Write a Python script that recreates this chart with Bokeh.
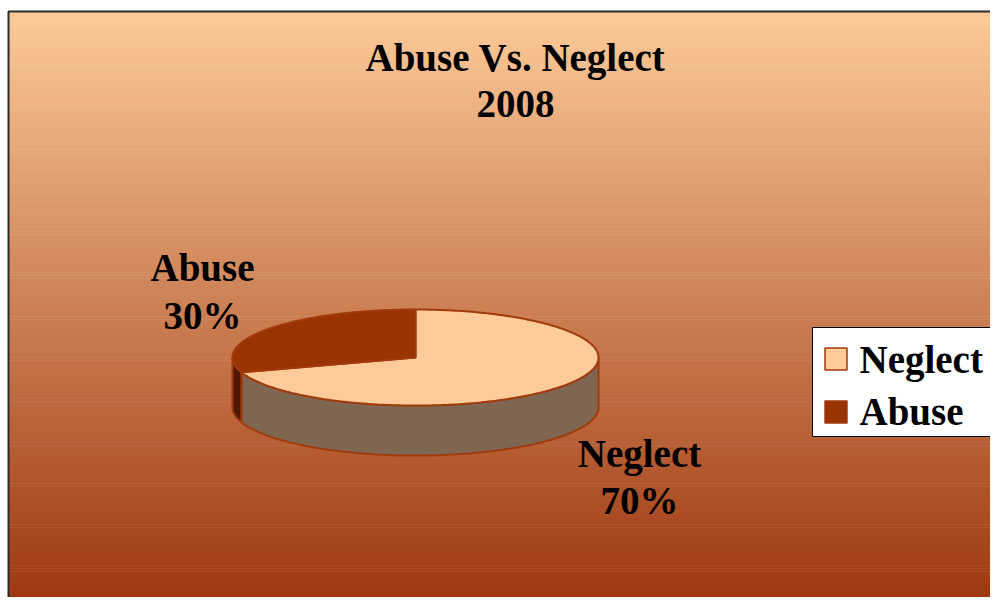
import numpy as np
from bokeh.plotting import figure
from bokeh.models import Range1d
from bokeh.core.properties import value
from bokeh.embed import file_html
from bokeh.resources import INLINE

# ---- data ----
categories = ["Neglect", "Abuse"]
shares = [70, 30]
top_colors = ["#FFCC99", "#993300"]
side_colors = ["#7F6650", "#4D1A00"]
title_lines = ["Abuse Vs. Neglect", "2008"]

W, H = 990, 597
DY = -13  # text baseline correction

p = figure(width=W, height=H, x_range=Range1d(0, W), y_range=Range1d(H, 0),
           output_backend="svg", toolbar_location=None,
           x_axis_type=None, y_axis_type=None, min_border=0)
p.grid.visible = False
p.outline_line_color = None
p.background_fill_color = "white"
p.border_fill_color = "white"

# ---- background gradient ----
left_x, top_y, bot_y = 8, 11, 613
n = 200
edges = np.linspace(top_y, H, n + 1)
mid = (edges[:-1] + edges[1:]) / 2
t = (mid - top_y) / (bot_y - top_y)
c0 = np.array([252, 202, 152])
c1 = np.array([155, 52, 14])
cols = ["#%02x%02x%02x" % tuple(int(round(v)) for v in (c0 + (c1 - c0) * tt)) for tt in t]
p.quad(left=left_x, right=W, top=edges[:-1], bottom=edges[1:] + 0.6, fill_color=cols, line_color=None)

# chart border (left & top visible)
p.quad(left=left_x, right=W + 50, top=top_y, bottom=H + 50, fill_color=None,
       line_color="#2b2b2b", line_width=2)

# ---- 3D pie ----
cx, cy, rx, ry, depth = 415.0, 357.0, 183.0, 48.0, 50.0
vals = np.array(shares, dtype=float)
fr = vals / vals.sum()
cum = np.concatenate([[0], np.cumsum(fr)])
start = np.pi / 2
outline = "#A13A0C"

# sides (front half only)
for i in range(len(vals)):
    a = start - cum[i + 1] * 2 * np.pi
    b = start - cum[i] * 2 * np.pi
    lo, hi = max(a, -np.pi), min(b, 0.0)
    if hi <= lo:
        continue
    th = np.linspace(lo, hi, 120)
    xs = cx + rx * np.cos(th)
    yt = cy - ry * np.sin(th)
    px = np.concatenate([xs, xs[::-1]])
    py = np.concatenate([yt, (yt + depth)[::-1]])
    p.patch(px, py, fill_color=side_colors[i], line_color=outline, line_width=2)

# top faces
for i in range(len(vals)):
    a = start - cum[i + 1] * 2 * np.pi
    b = start - cum[i] * 2 * np.pi
    th = np.linspace(a, b, 240)
    px = np.concatenate([[cx], cx + rx * np.cos(th)])
    py = np.concatenate([[cy], cy - ry * np.sin(th)])
    p.patch(px, py, fill_color=top_colors[i], line_color=outline, line_width=2)

# ---- texts ----
font = value("Liberation Serif")
tkw = dict(text_font=font, text_font_style="bold", text_font_size="39px",
           text_baseline="alphabetic", text_color="black")
p.text(x=[515] * 2, y=[70 + DY, 116 + DY], text=title_lines, text_align="center", **tkw)

label_x = {"Abuse": 202, "Neglect": 639}
label_y = {"Abuse": (280, 328), "Neglect": (466, 513)}
lx, ly, lt = [], [], []
for cat, sh in zip(categories, shares):
    lx += [label_x[cat]] * 2
    ly += [v + DY for v in label_y[cat]]
    lt += [cat, f"{sh}%"]
p.text(x=lx, y=ly, text=lt, text_align="center", **tkw)

# ---- legend (drawn manually so it can run past the right edge) ----
LX = 812
p.quad(left=LX, right=W + 20, top=327, bottom=436, fill_color="white",
       line_color="black", line_width=1)
leg_y = [358.5, 411.5]
p.rect(x=[LX + 23.5] * 2, y=leg_y, width=22, height=22, fill_color=top_colors,
       line_color=outline, line_width=1.5)
p.text(x=[LX + 47] * 2, y=[372 + DY, 424 + DY], text=categories, text_align="left", **tkw)

open("out.html", "w").write(file_html(p, INLINE))
